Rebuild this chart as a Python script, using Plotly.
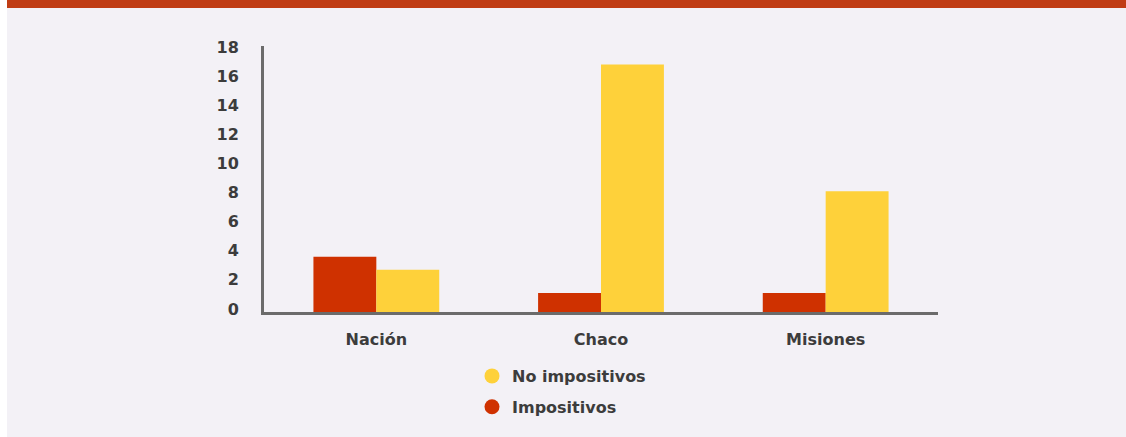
import plotly.graph_objects as go

# Categories and series values
categorias = ["Nación", "Chaco", "Misiones"]
impositivos = [3.8, 1.3, 1.3]
no_impositivos = [2.9, 17.0, 8.3]
y_ticks = [0, 2, 4, 6, 8, 10, 12, 14, 16, 18]

COLOR_IMP = "#cf3100"
COLOR_NOIMP = "#fed13a"
BG = "#f3f1f6"
TEXT = "#3c3c3c"
AXIS = "#6b6b6b"
FONT = "DejaVu Sans"
FONT_WEIGHT = "bold"
FONT_SIZE = 16

W, H = 1126, 437
L, R, T, B = 264, 188, 46, 125
PW, PH = W - L - R, H - T - B


def px_x(p):
    return (p - L) / PW


def px_y(p):
    return (H - B - p) / PH


fig = go.Figure()

fig.add_trace(go.Bar(
    x=categorias, y=impositivos, marker_color=COLOR_IMP,
    marker_line_width=0, showlegend=False, hoverinfo="x+y",
))
fig.add_trace(go.Bar(
    x=categorias, y=no_impositivos, marker_color=COLOR_NOIMP,
    marker_line_width=0, showlegend=False, hoverinfo="x+y",
))

# Circle legend entries
fig.add_trace(go.Scatter(
    x=[None], y=[None], mode="markers", name="No impositivos",
    marker=dict(symbol="circle", size=15, color=COLOR_NOIMP),
    legendgroup="a", legendrank=1,
))
fig.add_trace(go.Scatter(
    x=[None], y=[None], mode="markers", name="Impositivos",
    marker=dict(symbol="circle", size=15, color=COLOR_IMP),
    legendgroup="b", legendrank=2,
))

shapes = [
    # white strip at the left edge
    dict(type="rect", xref="paper", yref="paper",
         x0=px_x(0), x1=px_x(7), y0=px_y(H), y1=px_y(0),
         fillcolor="white", line_width=0, layer="below"),
    # top accent band
    dict(type="rect", xref="paper", yref="paper",
         x0=px_x(7), x1=px_x(W), y0=px_y(8), y1=px_y(0),
         fillcolor="#c03c14", line_width=0, layer="below"),
]

tick_font = dict(family=FONT, size=FONT_SIZE, color=TEXT, weight=FONT_WEIGHT)

fig.update_layout(
    width=W, height=H,
    margin=dict(l=L, r=R, t=T, b=B, pad=0, autoexpand=False),
    paper_bgcolor=BG, plot_bgcolor=BG,
    barmode="group", bargap=0.44, bargroupgap=0,
    font=tick_font,
    shapes=shapes,
    showlegend=True,
    legend=dict(
        xref="container", yref="container",
        x=472 / W, y=1 - 359 / H, xanchor="left", yanchor="top",
        orientation="v", traceorder="grouped", tracegroupgap=7,
        bgcolor="rgba(0,0,0,0)",
        font=tick_font,
    ),
    xaxis=dict(
        showgrid=False, showline=True, linecolor=AXIS, linewidth=3,
        ticks="", ticklabelstandoff=11, zeroline=False,
        tickfont=tick_font,
    ),
    yaxis=dict(
        range=[0, 18.27], tickvals=y_ticks, showgrid=False,
        showline=True, linecolor=AXIS, linewidth=3, zeroline=False,
        ticks="", ticklabelstandoff=19, ticklabelshift=-3,
        tickfont=tick_font,
    ),
)

fig.write_html("out.html")
